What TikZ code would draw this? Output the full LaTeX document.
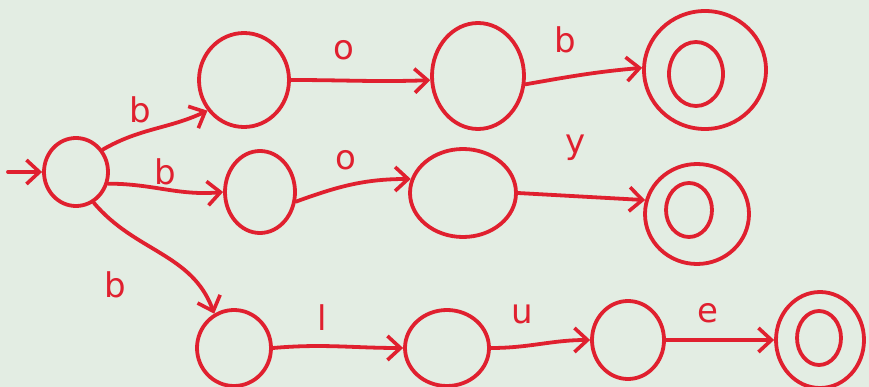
\documentclass[tikz,border=0pt]{standalone}
\usepackage{fontspec}
\setmainfont{DejaVu Sans}
\usetikzlibrary{shapes.geometric,arrows.meta}
\definecolor{bg}{HTML}{E3EDE3}
\definecolor{ink}{HTML}{E0202F}
\tikzset{
  st/.style={draw=ink, line width=3.8pt, ellipse, inner sep=0pt},
  tr/.style={draw=ink, line width=3.8pt, line cap=round, -{Straight Barb[length=13pt,width=24pt,line width=3.6pt]}},
  lb/.style={text=ink, font=\fontsize{34}{34}\selectfont}
}
\begin{document}
\begin{tikzpicture}[x=1pt,y=-1pt]
\useasboundingbox (0,0) rectangle (869,387);
\fill[bg] (0,0) rectangle (869,387);
% states
\node[st, minimum width=64pt, minimum height=68pt] (q0) at (76,172) {};
\node[st, minimum width=90pt, minimum height=94pt] (a1) at (244,80) {};
\node[st, minimum width=92pt, minimum height=106pt] (a2) at (478,76) {};
\node[st, minimum width=122pt, minimum height=118pt] (a3) at (705,70) {};
\node[st, minimum width=54pt, minimum height=64pt] (a3i) at (696,74) {};
\node[st, minimum width=70pt, minimum height=82pt] (b1) at (260,192) {};
\node[st, minimum width=106pt, minimum height=88pt] (b2) at (463,193) {};
\node[st, minimum width=104pt, minimum height=100pt] (b3) at (697,214) {};
\node[st, minimum width=46pt, minimum height=54pt] (b3i) at (689,210) {};
\node[st, minimum width=74pt, minimum height=76pt] (c1) at (234,348) {};
\node[st, minimum width=84pt, minimum height=76pt] (c2) at (447,348) {};
\node[st, minimum width=72pt, minimum height=78pt] (c3) at (628,340) {};
\node[st, minimum width=88pt, minimum height=96pt] (c4) at (820,340) {};
\node[st, minimum width=44pt, minimum height=54pt] (c4i) at (819,338) {};
% start
\coordinate (s) at (8,172);
\draw[tr] (s) -- (q0.west);
% transitions
\draw[tr] (q0.40) to[out=30,in=205] (a1.220);
\draw[tr] (q0.-20) to[out=0,in=185] (b1.west);
\draw[tr] (q0.-60) to[out=-50,in=110] (c1.120);
\draw[tr] (a1.east) to[out=0,in=182] (a2.185);
\draw[tr] (a2.-10) to[out=10,in=185] (a3.178);
\draw[tr] (b1.-15) to[out=20,in=180] (b2.165);
\draw[tr] (b2.east) -- (b3.165);
\draw[tr] (c1.east) to[out=5,in=180] (c2.west);
\draw[tr] (c2.east) to[out=0,in=180] (c3.west);
\draw[tr] (c3.east) -- (c4.west);
% labels
\node[lb] (l1) at (140,110) {b};
\node[lb] (l2) at (165,172) {b};
\node[lb] (l3) at (115,285) {b};
\node[lb] (l4) at (344,50) {o};
\node[lb] (l5) at (565,40) {b};
\node[lb] (l6) at (346,160) {o};
\node[lb] (l7) at (576,148) {y};
\node[lb] (l8) at (322,318) {l};
\node[lb] (l9) at (522,314) {u};
\node[lb] (l10) at (708,313) {e};
\end{tikzpicture}
\end{document}
